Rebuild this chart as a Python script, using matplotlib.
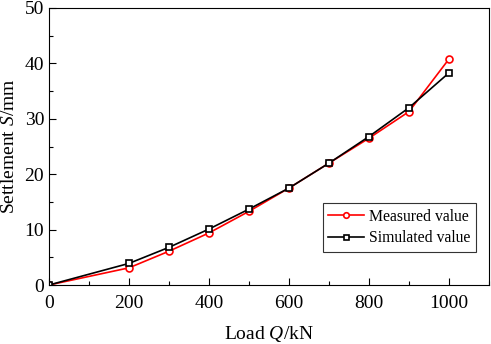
"""Load-settlement curve: measured vs simulated."""

import matplotlib
matplotlib.use('Agg')
import matplotlib.pyplot as plt
from matplotlib.ticker import MultipleLocator

# ── Data ──
load = [0, 200, 300, 400, 500, 600, 700, 800, 900, 1000]
measured = [0, 3.1, 6.1, 9.4, 13.3, 17.5, 22.0, 26.5, 31.3, 40.8]
simulated = [0, 3.9, 6.8, 10.1, 13.7, 17.5, 22.0, 26.8, 32.0, 38.3]

plt.rcParams.update({
    'font.family': 'Liberation Serif',
    'mathtext.fontset': 'custom',
    'mathtext.rm': 'Liberation Serif',
    'mathtext.it': 'Liberation Serif:italic',
    'font.size': 13,
})

fig = plt.figure(figsize=(4.91, 3.44), dpi=100)
ax = fig.add_axes([49 / 491, 1 - 285 / 344, 440 / 491, 277 / 344])

ax.plot(load, measured, color='red', marker='o', markersize=5,
        markerfacecolor='white', markeredgewidth=1.2, lw=1.2, label='Measured value')
ax.plot(load, simulated, color='black', marker='s', markersize=4.5,
        markerfacecolor='white', markeredgewidth=1.2, lw=1.2, label='Simulated value')

ax.set_xlim(0, 1100)
ax.set_ylim(0, 50)
ax.xaxis.set_major_locator(MultipleLocator(200))
ax.xaxis.set_minor_locator(MultipleLocator(100))
ax.yaxis.set_major_locator(MultipleLocator(10))
ax.yaxis.set_minor_locator(MultipleLocator(5))
ax.tick_params(which='major', direction='in', length=5, width=0.8, labelsize=14)
ax.tick_params(axis='x', which='major', pad=7)
ax.tick_params(which='minor', direction='in', length=3, width=0.8)
ax.set_xticks([0, 200, 400, 600, 800, 1000])

for s in ax.spines.values():
    s.set_linewidth(0.8)

ax.set_xlabel('Load $Q$/kN', fontsize=14, labelpad=9)
ax.set_ylabel('Settlement $S$/mm', fontsize=14, labelpad=5)

leg = ax.legend(loc='lower right', bbox_to_anchor=(0.97, 0.12), borderaxespad=0,
                fontsize=11.3, fancybox=False, framealpha=1, edgecolor='#333333',
                handlelength=2.3, borderpad=0.35, labelspacing=0.35,
                handletextpad=0.3, markerscale=0.8)
leg.get_frame().set_linewidth(0.8)

plt.savefig('out.png', dpi=100)
plt.close()
